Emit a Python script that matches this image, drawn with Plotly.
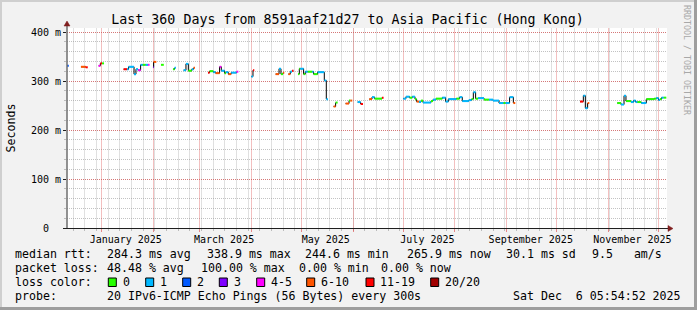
import plotly.graph_objects as go

# ---------------- data ----------------
range_start = "2024-12-11 05:54:52"
range_end = "2025-12-06 05:54:52"

# median RTT (ms); None = no data (100 % loss) starting at that time
times = [
    "2024-12-11 06:00", "2024-12-12 08:00",
    "2024-12-19 15:00", "2024-12-22 10:00", "2024-12-23 17:00",
    "2024-12-30 05:00", "2024-12-31 06:00", "2025-01-01 06:00", "2025-01-02 11:00",
    "2025-01-14 05:00", "2025-01-16 06:00", "2025-01-17 05:00", "2025-01-20 11:00", "2025-01-21 15:00",
    "2025-01-22 20:00", "2025-01-24 10:00", "2025-01-25 15:00", "2025-01-27 10:00", "2025-01-28 20:00",
    "2025-01-29 19:00",
    "2025-01-31 20:00", "2025-02-01 05:00", "2025-02-02 20:00",
    "2025-02-05 15:00", "2025-02-07 08:00",
    "2025-02-12 20:00", "2025-02-13 19:00", "2025-02-14 15:00",
    "2025-02-19 05:00", "2025-02-20 15:00", "2025-02-22 01:00", "2025-02-24 03:00", "2025-02-25 05:00",
    "2025-02-26 01:00",
    "2025-03-05 20:00", "2025-03-06 19:00", "2025-03-09 01:00", "2025-03-10 10:00", "2025-03-12 19:00",
    "2025-03-13 20:00", "2025-03-15 19:00", "2025-03-16 15:00", "2025-03-18 01:00", "2025-03-19 18:00",
    "2025-03-23 00:00", "2025-03-24 01:00",
    "2025-03-31 20:00", "2025-04-01 20:00", "2025-04-02 15:00",
    "2025-04-15 10:00", "2025-04-17 11:00", "2025-04-18 15:00", "2025-04-19 20:00", "2025-04-20 15:00",
    "2025-04-23 01:00", "2025-04-24 05:00", "2025-04-25 06:00", "2025-04-26 05:00",
    "2025-04-28 20:00", "2025-04-29 15:00", "2025-04-30 05:00", "2025-05-02 05:00", "2025-05-03 05:00",
    "2025-05-04 15:00", "2025-05-07 10:00", "2025-05-08 05:00", "2025-05-10 15:00", "2025-05-14 15:00",
    "2025-05-15 20:00", "2025-05-16 20:00",
    "2025-05-20 05:00", "2025-05-21 10:00", "2025-05-22 15:00",
    "2025-05-27 10:00", "2025-05-29 11:00", "2025-05-30 05:00", "2025-05-31 10:00",
    "2025-06-03 15:00", "2025-06-05 10:00", "2025-06-06 20:00",
    "2025-06-10 15:00", "2025-06-12 06:00", "2025-06-13 19:00", "2025-06-18 06:00", "2025-06-19 05:00",
    "2025-07-01 01:00", "2025-07-02 15:00", "2025-07-04 19:00", "2025-07-06 10:00", "2025-07-08 01:00",
    "2025-07-09 00:00", "2025-07-10 11:00", "2025-07-11 15:00", "2025-07-12 20:00", "2025-07-17 15:00",
    "2025-07-18 20:00", "2025-07-20 15:00", "2025-07-24 10:00", "2025-07-26 10:00", "2025-07-28 01:00",
    "2025-08-01 20:00", "2025-08-03 19:00", "2025-08-05 10:00", "2025-08-09 08:00", "2025-08-11 00:00",
    "2025-08-12 01:00", "2025-08-13 10:00", "2025-08-14 20:00", "2025-08-18 11:00", "2025-08-21 11:00",
    "2025-08-23 20:00", "2025-08-27 11:00", "2025-08-30 01:00", "2025-08-31 10:00", "2025-09-02 19:00",
    "2025-09-05 01:00", "2025-09-06 05:00",
    "2025-10-15 01:00", "2025-10-17 01:00", "2025-10-18 06:00", "2025-10-19 15:00", "2025-10-20 15:00",
    "2025-11-06 10:00", "2025-11-08 15:00", "2025-11-10 11:00", "2025-11-11 15:00", "2025-11-14 15:00",
    "2025-11-16 05:00", "2025-11-17 10:00", "2025-11-18 10:00", "2025-11-20 20:00", "2025-11-23 20:00",
    "2025-11-28 15:00", "2025-11-29 20:00", "2025-12-01 05:00", "2025-12-02 01:00", "2025-12-03 00:00",
    "2025-12-04 05:00", "2025-12-05 20:00",
]
median_ms = [
    331, None,
    329, 328, None,
    331, 336, 336, None,
    324, 324, 329, 314, 324,
    322, 333, 333, 333, 333,
    None,
    328, 339, None,
    333, None,
    324, 327, None,
    322, 335, 321, 324, 327,
    None,
    317, 320, 318, 316, 329,
    321, 316, 318, 314, 317,
    319, None,
    309, 322, None,
    314, 325, 314, 317, None,
    314, 319, 321, None,
    314, 325, 325, 314, 319,
    319, 319, 314, 318, 301,
    263, None,
    248, 256, None,
    254, 260, 260, None,
    257, 253, None,
    263, 267, 264, 266, None,
    264, 268, 266, 268, 263,
    258, 257, 260, 256, 259,
    262, 264, 266, 258, 263,
    264, 267, 259, 261, 263,
    277, 264, 265, 262, 262,
    260, 255, 255, 255, 267,
    255, None,
    258, 270, 244.6, 255, None,
    255, 252, 270, 259, 257,
    260, 257, 257, 255, 263,
    264, 265, 261, 263, 266,
    266, None,
]
# loss bucket index per point (0 .. 7), None for no data
loss_level = [
    2, None,
    5, 6, None,
    4, 6, 0, None,
    6, 1, 1, 1, 1,
    4, 1, 0, 1, 4,
    None,
    3, 5, None,
    0, None,
    0, 1, None,
    1, 1, 0, 1, 5,
    None,
    6, 0, 1, 5, 4,
    1, 0, 1, 5, 1,
    4, None,
    1, 6, None,
    5, 1, 0, 5, None,
    5, 1, 6, None,
    0, 0, 1, 0, 1,
    0, 1, 0, 1, 1,
    1, None,
    5, 0, None,
    5, 0, 5, None,
    1, 6, None,
    5, 1, 0, 6, None,
    1, 1, 0, 1, 0,
    5, 1, 0, 1, 0,
    1, 0, 1, 1, 1,
    0, 1, 1, 1, 0,
    1, 0, 1, 0, 1,
    1, 1, 0, 1, 1,
    5, None,
    6, 1, 1, 5, None,
    0, 1, 1, 0, 1,
    1, 1, 0, 1, 0,
    0, 1, 1, 0, 1,
    0, None,
]

loss_labels = ["0", "1", "2", "3", "4-5", "6-10", "11-19", "20/20"]
loss_colors = ["#26ff00", "#00b8ff", "#0059ff", "#7e00ff", "#ff00ff", "#ff5500", "#ff0000", "#a10000"]

y_tickvals = [0, 100, 200, 300, 400]
y_ticktext = ["0\u00a0\u00a0", "100 m", "200 m", "300 m", "400 m"]

month_starts = ["2025-01-01", "2025-02-01", "2025-03-01", "2025-04-01", "2025-05-01", "2025-06-01",
                "2025-07-01", "2025-08-01", "2025-09-01", "2025-10-01", "2025-11-01", "2025-12-01"]
x_label_dates = ["2025-01-15 12:00", "2025-03-15 12:00", "2025-05-15 12:00",
                 "2025-07-15 12:00", "2025-09-15 12:00", "2025-11-15 12:00"]
x_label_text = ["January 2025", "March 2025", "May 2025", "July 2025", "September 2025", "November 2025"]

title_text = "Last 360 Days from 8591aaf21d27 to Asia Pacific (Hong Kong)"
median_stats = ["284.3 ms avg", "338.9 ms max", "244.6 ms min", "265.9 ms now", "30.1 ms sd", "9.5   am/s"]
loss_stats = ["48.48 % avg", "100.00 % max", "0.00 % min", "0.00 % now"]
probe_text = "20 IPv6-ICMP Echo Pings (56 Bytes) every 300s"
stamp_text = "Sat Dec  6 05:54:52 2025"

# ---------------- layout helpers ----------------
W, H = 697, 310
L, R, T, B = 67, 30, 28, 82
PW, PH = W - L - R, H - T - B
MONO = "DejaVu Sans Mono"
GRID = "rgba(143,143,143,0.55)"
MGRID = "rgba(222,79,79,0.65)"
VGRID = "rgba(143,143,143,0.28)"
VMGRID = "rgba(222,79,79,0.36)"


def px(x):
    return (x - L) / PW


def py(y):
    return (H - B - y) / PH


def nb(s):
    return s.replace(" ", "\u00a0")


fig = go.Figure()

# black connecting line (median)
fig.add_trace(go.Scatter(x=times, y=median_ms, mode="lines", line=dict(color="#000000", width=1, shape="hv"),
                         connectgaps=False, hoverinfo="skip", showlegend=False, xaxis="x", yaxis="y"))

# coloured median pieces by loss bucket
for b, col in enumerate(loss_colors):
    xs, ys = [], []
    for i in range(len(times) - 1):
        if loss_level[i] == b and median_ms[i] is not None:
            xs += [times[i], times[i + 1], None]
            ys += [median_ms[i], median_ms[i], None]
    if xs:
        fig.add_trace(go.Scatter(x=xs, y=ys, mode="lines", line=dict(color=col, width=2),
                                 hoverinfo="skip", showlegend=False, xaxis="x2", yaxis="y"))

shapes = []
# image frame (rrdtool shades)
shapes += [
    dict(type="rect", xref="paper", yref="paper", x0=px(0), x1=px(W), y0=py(0), y1=py(2),
         fillcolor="#cfcfcf", line_width=0, layer="below"),
    dict(type="rect", xref="paper", yref="paper", x0=px(0), x1=px(2), y0=py(0), y1=py(H),
         fillcolor="#cfcfcf", line_width=0, layer="below"),
    dict(type="rect", xref="paper", yref="paper", x0=px(0), x1=px(W), y0=py(H - 3), y1=py(H),
         fillcolor="#9e9e9e", line_width=0, layer="below"),
    dict(type="rect", xref="paper", yref="paper", x0=px(W - 3), x1=px(W), y0=py(0), y1=py(H),
         fillcolor="#9e9e9e", line_width=0, layer="below"),
]
# axes with arrows
shapes += [
    dict(type="line", xref="paper", yref="paper", x0=px(67), x1=px(67), y0=py(228), y1=py(25),
         line=dict(color="#6e6e6e", width=1.5)),
    dict(type="line", xref="paper", yref="paper", x0=px(64), x1=px(669), y0=py(228.5), y1=py(228.5),
         line=dict(color="#1f1f1f", width=1)),
    dict(type="path", xref="paper", yref="paper",
         path=f"M {px(64)} {py(26)} L {px(70)} {py(26)} L {px(67)} {py(21)} Z",
         fillcolor="#801f1f", line=dict(color="#801f1f", width=0.5)),
    dict(type="path", xref="paper", yref="paper",
         path=f"M {px(668)} {py(225.5)} L {px(668)} {py(231.5)} L {px(673)} {py(228.5)} Z",
         fillcolor="#801f1f", line=dict(color="#801f1f", width=0.5)),
]

annotations = []
LEG = dict(family=MONO, size=11.6, color="#000000")


def text_at(x, y, s, anchor="left", font=LEG, angle=0):
    annotations.append(dict(xref="paper", yref="paper", x=px(x), y=py(y), text=nb(s), showarrow=False,
                            xanchor=anchor, yanchor="middle", font=font, borderpad=0, borderwidth=0,
                            textangle=angle))


row_y = [254.3, 268.3, 282.3, 296.0]
text_at(15.3, row_y[0], "median rtt:")
for xx, s in zip([106.5, 206.5, 305.3, 407, 506, 591.5], median_stats):
    text_at(xx, row_y[0], s)
text_at(15.3, row_y[1], "packet loss:")
for xx, s in zip([106.5, 200.5, 299.3, 381], loss_stats):
    text_at(xx, row_y[1], s)
text_at(15.3, row_y[2], "loss color:")
for bx, lab, col in zip([108.3, 145.7, 182.7, 219.3, 256.7, 306.7, 366, 430.7], loss_labels, loss_colors):
    shapes.append(dict(type="rect", xref="paper", yref="paper", x0=px(bx), x1=px(bx + 8),
                       y0=py(286.5), y1=py(278), fillcolor=col, line=dict(color="#000000", width=1)))
    text_at(bx + 14.3, row_y[2], lab)
text_at(15.3, row_y[3], "probe:")
text_at(106.5, row_y[3], probe_text)
text_at(681, row_y[3], stamp_text, anchor="right")

# y axis title
text_at(10.5, 128, "Seconds", anchor="center", angle=-90)
# watermark
annotations.append(dict(xref="paper", yref="paper", x=px(687), y=py(60), text=nb("RRDTOOL / TOBI OETIKER"),
                        showarrow=False, xanchor="center", yanchor="middle", textangle=90,
                        font=dict(family=MONO, size=8.3, color="#a8a8a8")))

fig.update_layout(
    width=W, height=H,
    margin=dict(l=L, r=R, t=T, b=B, pad=0),
    paper_bgcolor="#f2f2f2", plot_bgcolor="#ffffff",
    showlegend=False,
    title=dict(text=title_text, x=347.5 / W, xref="container", xanchor="center",
               y=1 - 19.5 / H, yref="container", yanchor="middle",
               font=dict(family=MONO, size=13.3, color="#000000")),
    # main x axis: labels (mid-month) + weekly minor grid
    xaxis=dict(type="date", range=[range_start, range_end], tickmode="array", tickvals=x_label_dates,
               ticktext=x_label_text, showgrid=False, ticks="", showline=False, zeroline=False,
               ticklabelstandoff=4, tickfont=dict(family=MONO, size=10, color="#000000"),
               minor=dict(tick0="2024-12-15", dtick=7 * 86400000, showgrid=True, gridcolor=VGRID,
                          griddash="solid", gridwidth=1, ticks="outside", ticklen=2, tickcolor=GRID)),
    # overlay x axis: month-start major grid
    xaxis2=dict(type="date", overlaying="x", matches="x", side="bottom", anchor="y", tickmode="array",
                tickvals=month_starts, ticktext=[""] * len(month_starts), showgrid=True, gridcolor=VMGRID,
                griddash="solid", gridwidth=1, ticks="outside", ticklen=3, tickcolor=MGRID,
                zeroline=False, showline=False),
    yaxis=dict(range=[0, 408.16], tickmode="array", tickvals=y_tickvals, ticktext=y_ticktext,
               showgrid=True, gridcolor=MGRID, griddash="1px,1px", gridwidth=1, ticks="outside",
               ticklen=3, tickcolor="#1f1f1f", zeroline=False, showline=False,
               tickfont=dict(family=MONO, size=10, color="#000000"),
               minor=dict(tick0=0, dtick=20, showgrid=True, gridcolor=GRID, griddash="1px,1px",
                          gridwidth=1, ticks="outside", ticklen=2, tickcolor=GRID)),
    shapes=shapes,
    annotations=annotations,
)

fig.write_html("out.html")
